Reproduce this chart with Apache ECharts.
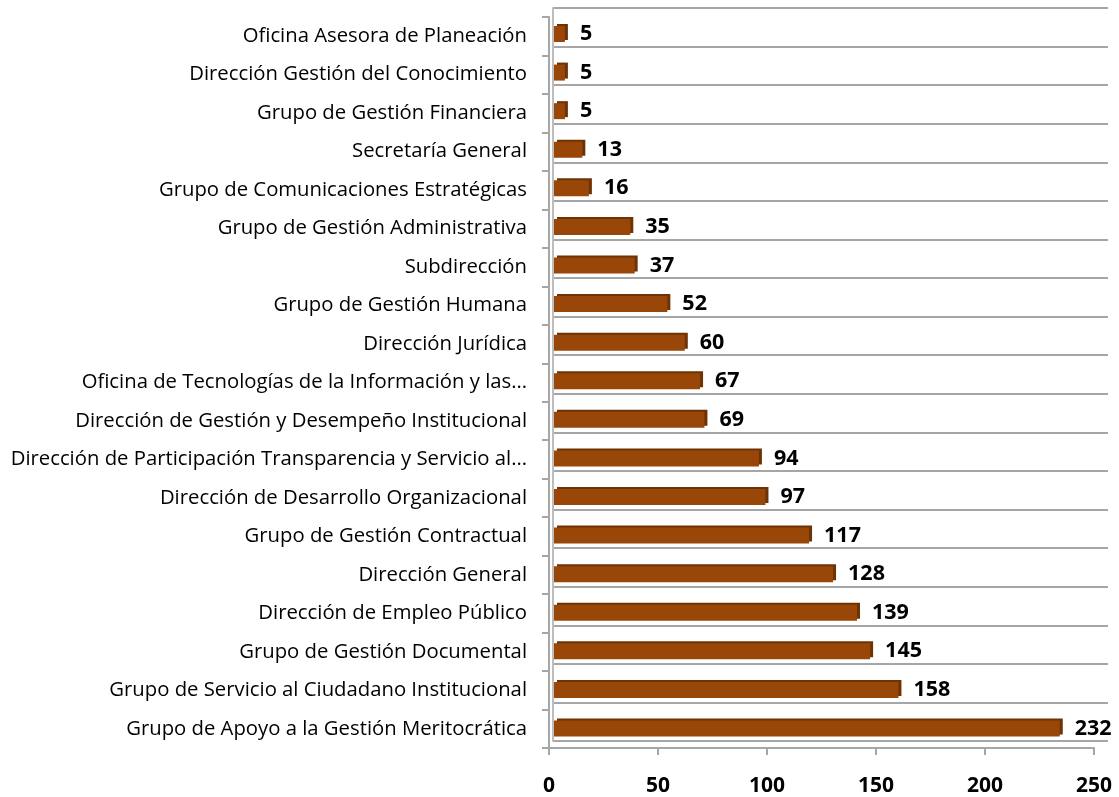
<!DOCTYPE html>
<html>
<head>
<meta charset="utf-8">
<script src="https://cdn.jsdelivr.net/npm/echarts@6/dist/echarts.min.js"></script>
<style>
  html, body { margin: 0; padding: 0; background: #fff; }
  #chart { width: 1119px; height: 797px; }
</style>
</head>
<body>
<div id="chart"></div>
<script>
// bottom to top, as ECharts draws category axes
const categories = [
  "Grupo de Apoyo a la Gestión Meritocrática",
  "Grupo de Servicio al Ciudadano Institucional",
  "Grupo de Gestión Documental",
  "Dirección de Empleo Público",
  "Dirección General",
  "Grupo de Gestión Contractual",
  "Dirección de Desarrollo Organizacional",
  "Dirección de Participación Transparencia y Servicio al…",
  "Dirección de Gestión y Desempeño Institucional",
  "Oficina de Tecnologías de la Información y las…",
  "Dirección Jurídica",
  "Grupo de Gestión Humana",
  "Subdirección",
  "Grupo de Gestión Administrativa",
  "Grupo de Comunicaciones Estratégicas",
  "Secretaría General",
  "Grupo de Gestión Financiera",
  "Dirección Gestión del Conocimiento",
  "Oficina Asesora de Planeación"
];
const values = [232, 158, 145, 139, 128, 117, 97, 94, 69, 67, 60, 52, 37, 35, 16, 13, 5, 5, 5];
const xTicks = [0, 50, 100, 150, 200, 250];

const gray = "#a6a6a6";
const font = "Open Sans";
const xMin = xTicks[0], xMax = xTicks[xTicks.length - 1];

const chart = echarts.init(document.getElementById("chart"));
chart.setOption({
  animation: false,
  grid: [
    // front: axes and labels
    { left: 549, right: 25, top: 17, bottom: 47 },
    // bars (pushed back a little, 3d look)
    { left: 554, right: 20, top: 14.7, bottom: 49.2 },
    // back wall + floor lines
    { left: 553, right: 11, top: 8, bottom: 56 }
  ],
  xAxis: [
    {
      gridIndex: 0, type: "value", min: xMin, max: xMax, interval: 50,
      axisLine: { show: true, lineStyle: { color: gray, width: 2 } },
      axisTick: { show: true, length: 7, lineStyle: { color: gray, width: 2 } },
      axisLabel: { fontFamily: font, fontWeight: "bold", fontSize: 21, color: "#000", margin: 28 },
      splitLine: { show: false }
    },
    {
      gridIndex: 1, type: "value", min: xMin, max: xMax, interval: 50, show: false,
      splitLine: { show: false }
    },
    {
      gridIndex: 2, type: "value", min: 0, max: 1, show: false,
      splitLine: { show: false }
    }
  ],
  yAxis: [
    {
      gridIndex: 0, type: "category", data: categories,
      axisLine: { show: true, lineStyle: { color: gray, width: 2 } },
      axisTick: { show: true, length: 7, lineStyle: { color: gray, width: 2 } },
      axisLabel: { fontFamily: font, fontSize: 20.3, color: "#000", margin: 22, padding: [0, 0, 8, 0] },
      splitLine: { show: false }
    },
    {
      gridIndex: 1, type: "category", data: categories, show: false
    },
    {
      gridIndex: 2, type: "category", data: categories,
      axisLine: { show: true, lineStyle: { color: "#bdbdbd", width: 2 } },
      axisTick: { show: false },
      axisLabel: { show: false },
      splitLine: { show: true, lineStyle: { color: gray, width: 2 } }
    }
  ],
  series: [{
    type: "bar",
    xAxisIndex: 1,
    yAxisIndex: 1,
    data: values,
    barWidth: 16,
    itemStyle: {
      color: "#994709",
      shadowColor: "#6e3305",
      shadowOffsetX: 3,
      shadowOffsetY: -2,
      shadowBlur: 0
    },
    label: {
      show: true,
      position: "right",
      distance: 15,
      fontFamily: font,
      fontWeight: "bold",
      fontSize: 21.5,
      color: "#000"
    }
  }]
});
</script>
</body>
</html>
